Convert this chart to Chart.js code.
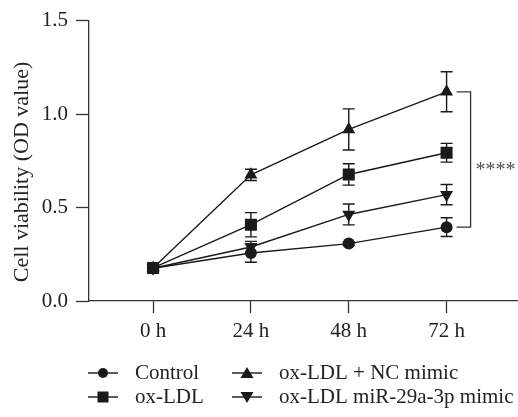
<!DOCTYPE html>
<html>
<head>
<meta charset="utf-8">
<script src="https://cdn.jsdelivr.net/npm/chart.js@4/dist/chart.umd.min.js"></script>
<style>
  html, body { margin: 0; padding: 0; background: #fff; }
  #wrap { position: relative; width: 518px; height: 417px; }
</style>
</head>
<body>
<div id="wrap"><canvas id="lineChart"></canvas></div>
<script>
// Data
const categories = ['0 h', '24 h', '48 h', '72 h'];
const yTicks = [0, 0.5, 1.0, 1.5];

const controlVals = [0.175, 0.257, 0.307, 0.395];
const controlErr = [0.01, 0.05, 0.01, 0.05];
const oxLdlVals = [0.177, 0.408, 0.677, 0.793];
const oxLdlErr = [0.01, 0.065, 0.057, 0.05];
const ncMimicVals = [0.177, 0.675, 0.918, 1.119];
const ncMimicErr = [0.01, 0.03, 0.11, 0.107];
const mirMimicVals = [0.175, 0.289, 0.463, 0.569];
const mirMimicErr = [0.01, 0.03, 0.056, 0.054];

const seriesNames = ['Control', 'ox-LDL', 'ox-LDL + NC mimic', 'ox-LDL miR-29a-3p mimic'];
const yTitle = 'Cell viability (OD value)';
const sigLabel = '****';

// Style
const inkColor = '#1a1a1a';
const textColor = '#222222';
const axisColor = '#333333';
const fontFamily = "'Liberation Serif', 'DejaVu Serif', serif";
const fontSize = 21;

const toPoints = vals => vals.map((v, i) => ({ x: i, y: v }));

function makeSet(label, vals, errs, style, radius, rotation) {
  return {
    label: label,
    data: toPoints(vals),
    errors: errs,
    borderColor: inkColor,
    backgroundColor: inkColor,
    borderWidth: 1.4,
    pointStyle: style,
    pointRadius: radius,
    pointRotation: rotation || 0,
    pointBorderWidth: 0,
    pointBackgroundColor: inkColor,
    tension: 0
  };
}

// draw a marker for the legend
function drawMarker(ctx, style, x, y) {
  ctx.beginPath();
  if (style === 'circle') {
    ctx.arc(x, y, 5, 0, Math.PI * 2);
  } else if (style === 'rect') {
    ctx.rect(x - 5.5, y - 5.5, 11, 11);
  } else if (style === 'up') {
    ctx.moveTo(x, y - 6); ctx.lineTo(x + 6.5, y + 5); ctx.lineTo(x - 6.5, y + 5);
  } else {
    ctx.moveTo(x, y + 6); ctx.lineTo(x + 6.5, y - 5); ctx.lineTo(x - 6.5, y - 5);
  }
  ctx.closePath();
  ctx.fill();
}

const extrasPlugin = {
  id: 'extras',
  beforeDatasetsDraw(chart) {
    // error bars
    const ctx = chart.ctx;
    const xs = chart.scales.x, ys = chart.scales.y;
    ctx.save();
    ctx.strokeStyle = inkColor;
    ctx.lineWidth = 1.4;
    chart.data.datasets.forEach(ds => {
      ds.data.forEach((p, i) => {
        const e = ds.errors[i];
        const px = xs.getPixelForValue(p.x);
        const top = ys.getPixelForValue(p.y + e);
        const bot = ys.getPixelForValue(p.y - e);
        ctx.beginPath();
        ctx.moveTo(px, top); ctx.lineTo(px, bot);
        ctx.moveTo(px - 6, top); ctx.lineTo(px + 6, top);
        ctx.moveTo(px - 6, bot); ctx.lineTo(px + 6, bot);
        ctx.stroke();
      });
    });
    ctx.restore();
  },
  afterDraw(chart) {
    const ctx = chart.ctx;
    const xs = chart.scales.x, ys = chart.scales.y;
    ctx.save();
    // y axis title
    ctx.fillStyle = textColor;
    ctx.font = '22px ' + fontFamily;
    ctx.translate(22, 172);
    ctx.rotate(-Math.PI / 2);
    ctx.textAlign = 'center';
    ctx.textBaseline = 'middle';
    ctx.fillText(yTitle, 0, 0);
    ctx.restore();

    // significance bracket between top and bottom series at the last time point
    const last = categories.length - 1;
    const bx0 = xs.getPixelForValue(last) + 10;
    const bx1 = bx0 + 14;
    const by0 = ys.getPixelForValue(ncMimicVals[last]);
    const by1 = ys.getPixelForValue(controlVals[last]);
    ctx.save();
    ctx.strokeStyle = axisColor;
    ctx.lineWidth = 1.3;
    ctx.beginPath();
    ctx.moveTo(bx0, by0); ctx.lineTo(bx1, by0); ctx.lineTo(bx1, by1); ctx.lineTo(bx0, by1);
    ctx.stroke();
    ctx.fillStyle = '#555555';
    ctx.font = '20px ' + fontFamily;
    ctx.textAlign = 'left';
    ctx.textBaseline = 'alphabetic';
    ctx.fillText(sigLabel, bx1 + 5, (by0 + by1) / 2 + 17);
    ctx.restore();

    // legend, 2 x 2
    const cols = [88, 232];
    const rows = [373, 397];
    const styles = ['circle', 'rect', 'up', 'down'];
    ctx.save();
    ctx.font = fontSize + 'px ' + fontFamily;
    ctx.textBaseline = 'middle';
    ctx.textAlign = 'left';
    seriesNames.forEach((name, i) => {
      const lx = cols[Math.floor(i / 2)];
      const ly = rows[i % 2];
      ctx.strokeStyle = inkColor;
      ctx.lineWidth = 1.4;
      ctx.beginPath();
      ctx.moveTo(lx, ly); ctx.lineTo(lx + 30, ly);
      ctx.stroke();
      ctx.fillStyle = inkColor;
      drawMarker(ctx, styles[i], lx + 15, ly);
      ctx.fillStyle = textColor;
      ctx.fillText(name, lx + 47, ly);
    });
    ctx.restore();
  }
};

const lineChart = document.getElementById('lineChart');
if (lineChart) {
  const lineChartVar = new Chart(lineChart, {
    type: 'line',
    data: {
      datasets: [
        makeSet(seriesNames[0], controlVals, controlErr, 'circle', 6),
        makeSet(seriesNames[1], oxLdlVals, oxLdlErr, 'rect', 8.5),
        makeSet(seriesNames[2], ncMimicVals, ncMimicErr, 'triangle', 7.5),
        makeSet(seriesNames[3], mirMimicVals, mirMimicErr, 'triangle', 7.5, 180)
      ]
    },
    options: {
      responsive: true,
      maintainAspectRatio: false,
      animation: false,
      layout: {
        autoPadding: false,
        padding: { top: 19, right: 0, bottom: 0, left: 0 }
      },
      plugins: {
        legend: { display: false },
        tooltip: { enabled: false }
      },
      scales: {
        x: {
          type: 'linear',
          min: -0.655,
          max: 3.73,
          afterBuildTicks: scale => {
            scale.ticks = categories.map((c, i) => ({ value: i }));
          },
          afterFit: scale => {
            scale.height = 116;
            scale.paddingLeft = 0;
            scale.paddingRight = 0;
          },
          grid: {
            drawOnChartArea: false,
            drawTicks: true,
            tickLength: 12,
            tickWidth: 1.3,
            tickColor: axisColor
          },
          border: { display: true, color: axisColor, width: 1.3 },
          ticks: {
            color: textColor,
            font: { family: fontFamily, size: fontSize },
            padding: 6,
            maxRotation: 0,
            callback: v => categories[v]
          }
        },
        y: {
          min: 0,
          max: 1.5,
          afterBuildTicks: scale => {
            scale.ticks = yTicks.map(v => ({ value: v }));
          },
          afterFit: scale => { scale.width = 89; },
          grid: {
            drawOnChartArea: false,
            drawTicks: true,
            tickLength: 13,
            tickWidth: 1.3,
            tickColor: axisColor
          },
          border: { display: true, color: axisColor, width: 1.3 },
          ticks: {
            color: textColor,
            font: { family: fontFamily, size: fontSize },
            padding: 8,
            callback: v => v.toFixed(1)
          }
        }
      }
    },
    plugins: [extrasPlugin]
  });
}
</script>
</body>
</html>
